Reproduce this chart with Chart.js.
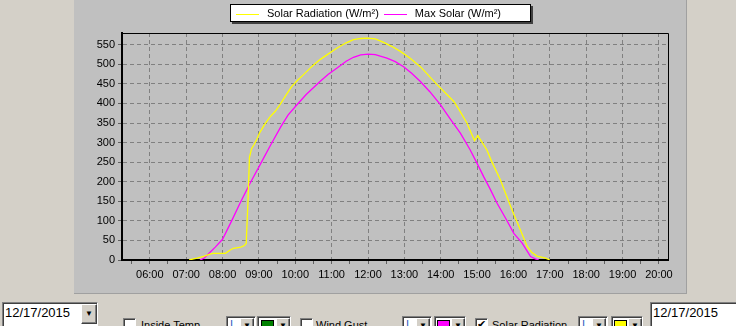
<!DOCTYPE html>
<html>
<head>
<meta charset="utf-8">
<script src="https://cdn.jsdelivr.net/npm/chart.js@4/dist/chart.umd.min.js"></script>
<style>
  body { margin: 0; width: 736px; height: 326px; background: #d4d0c8; overflow: hidden; position: relative;
         font-family: "Liberation Sans", Arial, sans-serif; }
  #panel { position: absolute; left: 74px; top: -2px; width: 612px; height: 295px; background: #c0c0c0;
           border-right: 1px solid #a0a0a0; border-bottom: 1px solid #a0a0a0; }
  #chartBox { position: absolute; left: 74px; top: 0; width: 613px; height: 294px; }
  #legend { position: absolute; left: 230px; top: 4px; width: 299px; height: 16px; background: #fff;
            border: 1px solid #000; box-shadow: 2px 2px 0 #404040; font-size: 11px; line-height: 16px; white-space: nowrap; }
  #legend span.sw { display: inline-block; width: 23px; height: 1px; vertical-align: middle; margin: 0 8px 0 5px; }
  .sunk { position: absolute; background: #fff; border-top: 1px solid #808080; border-left: 1px solid #808080;
          border-bottom: 1px solid #fff; border-right: 1px solid #fff; box-shadow: inset 1px 1px 0 #404040; }
  .btn { position: absolute; background: #d4d0c8; border-top: 1px solid #fff; border-left: 1px solid #fff;
         border-bottom: 1px solid #404040; border-right: 1px solid #404040; box-shadow: inset -1px -1px 0 #808080;
         font-size: 8px; text-align: center; line-height: 18px; }
  .lbl { position: absolute; font-size: 11px; color: #000; }
  .date { font-size: 13px; line-height: 20px; padding-left: 2px; }
  .sw2 { position: absolute; width: 11px; height: 11px; border: 1px solid #000; }
  .ln { position: absolute; color: #3060c0; font-size: 11px; }
</style>
</head>
<body>
<div id="panel"></div>
<div id="chartBox"><canvas id="solarChart" width="613" height="294"></canvas></div>
<div id="legend"></div>

<!-- bottom control strip -->
<div class="sunk date" style="left:2px;top:302px;width:92px;height:30px;">12/17/2015</div>
<div class="btn" style="left:81px;top:304px;width:14px;height:18px;">&#9660;</div>

<div class="sunk" style="left:123px;top:318px;width:11px;height:11px;"></div>
<div class="lbl" style="left:141px;top:319px;">Inside Temp</div>
<div class="sunk" style="left:226px;top:316px;width:28px;height:14px;"></div>
<div class="ln" style="left:230px;top:318px;">I</div>
<div class="btn" style="left:240px;top:318px;width:12px;height:14px;line-height:14px;">&#9660;</div>
<div class="sunk" style="left:257px;top:316px;width:32px;height:14px;"></div>
<div class="sw2" style="left:261px;top:320px;background:#008000;"></div>
<div class="btn" style="left:276px;top:318px;width:12px;height:14px;line-height:14px;">&#9660;</div>

<div class="sunk" style="left:300px;top:318px;width:11px;height:11px;"></div>
<div class="lbl" style="left:316px;top:319px;">Wind Gust</div>
<div class="sunk" style="left:402px;top:316px;width:28px;height:14px;"></div>
<div class="ln" style="left:406px;top:318px;">I</div>
<div class="btn" style="left:416px;top:318px;width:12px;height:14px;line-height:14px;">&#9660;</div>
<div class="sunk" style="left:434px;top:316px;width:30px;height:14px;"></div>
<div class="sw2" style="left:437px;top:320px;background:#ff00ff;"></div>
<div class="btn" style="left:451px;top:318px;width:12px;height:14px;line-height:14px;">&#9660;</div>

<div class="sunk" style="left:475px;top:318px;width:11px;height:11px;font-size:11px;line-height:11px;text-align:center;">&#10004;</div>
<div class="lbl" style="left:492px;top:319px;">Solar Radiation</div>
<div class="sunk" style="left:578px;top:316px;width:28px;height:14px;"></div>
<div class="ln" style="left:582px;top:318px;">I</div>
<div class="btn" style="left:592px;top:318px;width:12px;height:14px;line-height:14px;">&#9660;</div>
<div class="sunk" style="left:611px;top:316px;width:30px;height:14px;"></div>
<div class="sw2" style="left:614px;top:320px;background:#ffff00;"></div>
<div class="btn" style="left:628px;top:318px;width:12px;height:14px;line-height:14px;">&#9660;</div>

<div class="sunk date" style="left:650px;top:302px;width:90px;height:30px;">12/17/2015</div>

<script>
// time in decimal hours, values in W/m²
const solarHours = [7.08, 7.3, 7.5, 7.65, 7.75, 8.08, 8.2, 8.3, 8.5, 8.6, 8.65, 8.7, 8.74, 8.8, 8.87, 8.95, 9.02,
  9.15, 9.3, 9.45, 9.58, 9.75, 9.9, 10.05, 10.22, 10.45, 10.68, 10.9, 11.14, 11.4, 11.6, 11.8, 11.97, 12.2, 12.43,
  12.65, 12.89, 13.15, 13.44, 13.65, 13.9, 14.15, 14.36, 14.5, 14.72, 14.85,
  14.93, 15.02, 15.27, 15.4, 15.64, 15.8, 16.0, 16.2, 16.38, 16.5, 16.65, 16.88, 17.0];
const solarValues = [0, 5, 10, 15, 17, 17, 25, 30, 33, 37, 42, 150, 262, 285, 295, 310, 325,
  345, 365, 380, 397, 422, 443, 458, 473, 494, 512, 526, 541, 555, 563, 566, 567, 565, 556,
  546, 533, 516, 494, 473, 448, 425, 405, 385, 350, 322,
  305, 318, 281, 252, 205, 166, 119, 75, 34, 20, 10, 5, 0];

const maxHours = [7.38, 7.5, 7.65, 7.8, 8.0, 8.25, 8.48, 8.75, 9.03, 9.3, 9.6, 9.8, 10.04, 10.3, 10.68, 10.9, 11.14,
  11.4, 11.6, 11.8, 12.01, 12.2, 12.52, 12.75, 12.98, 13.2, 13.44, 13.7, 13.99, 14.25, 14.54, 14.8, 15.0, 15.18,
  15.35, 15.55, 15.8, 16.01, 16.24, 16.47, 16.6, 16.7];
const maxValues = [0, 5, 19, 33, 53, 100, 145, 195, 243, 290, 340, 370, 396, 423, 456, 474, 490,
  508, 518, 524, 526, 525, 516, 507, 494, 477, 456, 430, 397, 362, 324, 283, 247, 213,
  183, 145, 104, 68, 43, 9, 3, 0];

const hourTicks = [5.5, 6, 6.5, 7, 7.5, 8, 8.5, 9, 9.5, 10, 10.5, 11, 11.5, 12, 12.5, 13, 13.5, 14, 14.5,
  15, 15.5, 16, 16.5, 17, 17.5, 18, 18.5, 19, 19.5, 20];
const valueTicks = [0, 50, 100, 150, 200, 250, 300, 350, 400, 450, 500, 550];

const seriesLabels = ["Solar Radiation (W/m²)", "Max Solar (W/m²)"];
const seriesColors = ["#ffff00", "#ff00ff"];

const toPoints = (xs, ys) => xs.map((x, i) => ({ x: x, y: ys[i] }));

// html legend built from the series
document.getElementById("legend").innerHTML = seriesLabels.map((l, i) =>
  '<span class="sw" style="background:' + seriesColors[i] + '"></span>' + l).join("");

const framePlugin = {
  id: "frame",
  afterDraw(chart) {
    const a = chart.chartArea, c = chart.ctx;
    c.save();
    c.strokeStyle = "#000";
    c.lineWidth = 1;
    c.beginPath();
    c.moveTo(a.left, a.top + 0.5);
    c.lineTo(a.right + 0.5, a.top + 0.5);
    c.lineTo(a.right + 0.5, a.bottom);
    c.stroke();
    c.restore();
  }
};

const ctx = document.getElementById("solarChart").getContext("2d");
const chart = new Chart(ctx, {
  type: "line",
  data: {
    datasets: [{
      label: seriesLabels[0],
      data: toPoints(solarHours, solarValues),
      borderColor: seriesColors[0],
      borderWidth: 1.3,
      pointRadius: 0,
      tension: 0
    }, {
      label: seriesLabels[1],
      data: toPoints(maxHours, maxValues),
      borderColor: seriesColors[1],
      borderWidth: 1.3,
      pointRadius: 0,
      tension: 0
    }]
  },
  options: {
    responsive: false,
    animation: false,
    layout: { padding: { top: 33, right: 19, left: 0, bottom: 0 } },
    plugins: { legend: { display: false }, tooltip: { enabled: false } },
    scales: {
      x: {
        type: "linear",
        min: 5.235,
        max: 20.25,
        afterBuildTicks: (s) => { s.ticks = hourTicks.map(v => ({ value: v })); },
        afterFit: (s) => { s.height = 34; },
        ticks: {
          autoSkip: false,
          maxRotation: 0,
          padding: 4,
          color: "#000",
          font: { family: "'Liberation Sans', Arial", size: 11 },
          callback: (v) => v % 1 === 0 ? String(v).padStart(2, "0") + ":00" : ""
        },
        grid: {
          color: (c) => c.tick && c.tick.value % 1 === 0 ? "#808080" : "transparent",
          tickColor: "#606060",
          tickLength: 4
        },
        border: { color: "#000", width: 2, dash: [4, 3] }
      },
      y: {
        min: 0,
        max: 580,
        afterBuildTicks: (s) => { s.ticks = valueTicks.map(v => ({ value: v })); },
        afterFit: (s) => { s.width = 48; },
        ticks: {
          padding: 3,
          color: "#000",
          font: { family: "'Liberation Sans', Arial", size: 11 }
        },
        grid: {
          color: "#808080",
          tickColor: "#606060",
          tickLength: 4
        },
        border: { color: "#000", width: 2, dash: [4, 3] }
      }
    }
  },
  plugins: [framePlugin]
});
</script>
</body>
</html>
